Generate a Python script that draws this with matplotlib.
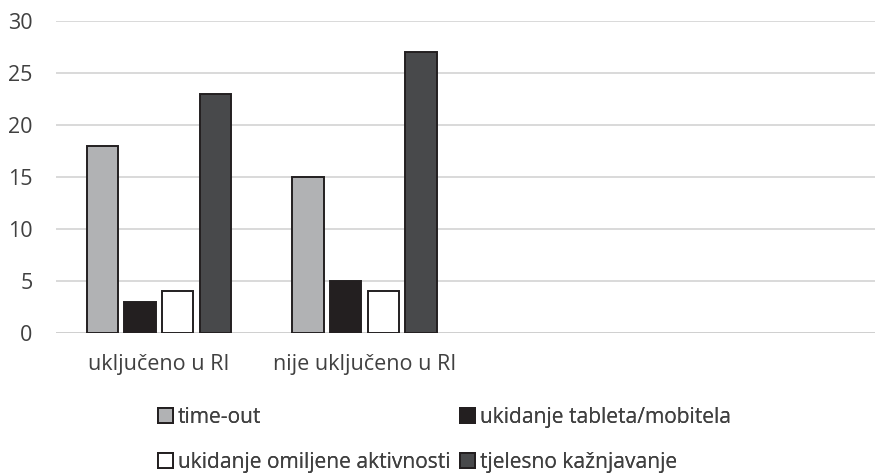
import numpy as np
import matplotlib.pyplot as plt
from matplotlib.patches import Patch

plt.rcParams['font.family'] = ['Open Sans', 'DejaVu Sans']

# Data
categories = ['uključeno u RI', 'nije uključeno u RI', '', '']
series = ['time-out', 'ukidanje tableta/mobitela',
          'ukidanje omiljene aktivnosti', 'tjelesno kažnjavanje']
values = [
    [18, 15],
    [3, 5],
    [4, 4],
    [23, 27],
]
colors = ['#b1b2b4', '#231f20', '#ffffff', '#48494b']

fig = plt.figure(figsize=(8.75, 4.73), dpi=100)
ax = fig.add_axes([0.064, 0.296, 0.94, 0.66])

x = np.arange(len(categories))
width = 0.152
step = 0.183
for i, (name, vals) in enumerate(zip(series, values)):
    offs = (i - 1.5) * step
    ax.bar(x[:len(vals)] + offs, vals, width, color=colors[i],
           edgecolor='#231f20', linewidth=1.4, label=name, zorder=3)

ax.set_xlim(-0.5, len(categories) - 0.5)
ax.set_ylim(0, 30)
ax.set_yticks(range(0, 31, 5))
ax.set_xticks(x)
ax.set_xticklabels(categories)
ax.yaxis.grid(True, color='#d9d9d9', linewidth=1.4, zorder=0)
ax.axhline(0, color='#d0d0d0', linewidth=1.4, zorder=2)
for s in ax.spines.values():
    s.set_visible(False)
ax.tick_params(axis='both', length=0, labelsize=15.5, colors='#404040')
ax.tick_params(axis='x', pad=15)
ax.tick_params(axis='y', pad=17)

# legend: two rows, two aligned columns
handles = [Patch(facecolor=c, edgecolor='#231f20', linewidth=1.4) for c in colors]
leg_pos = [(0.1806, 0.118), (0.5257, 0.118), (0.1806, 0.022), (0.5257, 0.022)]
leg_kw = dict(frameon=False, fontsize=15.1, handlelength=0.7, handleheight=0.7,
              handletextpad=0.25, borderpad=0, borderaxespad=0,
              labelcolor='#404040')
for h, name, pos in zip(handles, series, leg_pos):
    fig.add_artist(fig.legend([h], [name], loc='center left',
                              bbox_to_anchor=pos, **leg_kw))

fig.savefig('out.png', dpi=100)
